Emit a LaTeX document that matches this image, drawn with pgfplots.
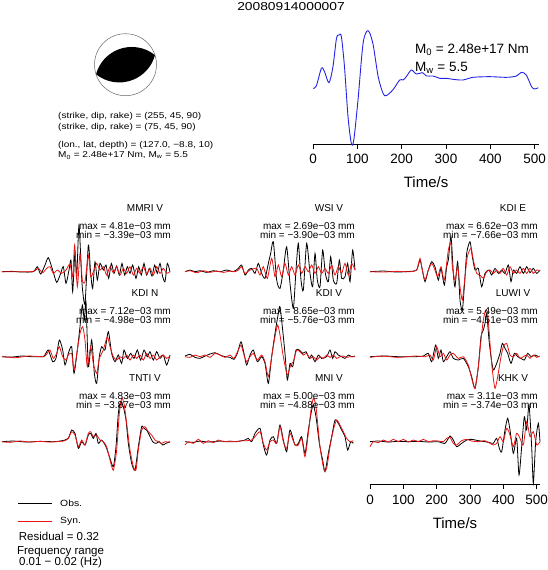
\documentclass[border=0pt]{standalone}
\usepackage{fontspec}
\setmainfont{Liberation Sans}
\usepackage{pgfplots}
\pgfplotsset{compat=1.18}

\definecolor{stfblue}{RGB}{35,35,230}
\definecolor{synred}{RGB}{235,20,20}

\pgfplotsset{
  wave/.style={scale only axis, width=170pt, height=80pt, xmin=0, xmax=510,
    ymin=-120, ymax=120, hide axis, clip=false, anchor=south west},
  obs/.style={black, line width=0.8pt, no marks, smooth, tension=0.4},
  syn/.style={synred, line width=0.8pt, no marks, smooth, tension=0.4},
}
\newcommand{\lab}[1]{\fontsize{10}{10}\selectfont #1}

\begin{document}
\begin{tikzpicture}
\useasboundingbox (0,0) rectangle (547pt,-570pt);

% title
\node at (291pt,-7pt) {\scalebox{1.2}[1]{\fontsize{11.5}{12}\selectfont 20080914000007}};

% beachball
\begin{scope}[shift={(125.5pt,-64.7pt)}, rotate=18]
\fill[black] (31pt,0) arc[start angle=33.2, end angle=146.8, radius=37.03pt]
  arc[start angle=213.2, end angle=326.8, radius=37.03pt] -- cycle;
\end{scope}
\draw[black!60, line width=0.5pt] (125.5pt,-64.7pt) circle (31pt);

\begin{scope}[every node/.style={anchor=west, inner sep=0pt}]
\node at (58pt,-116.7pt) {\scalebox{1.18}[1]{\fontsize{8.5}{9}\selectfont (strike, dip, rake) = (255, 45, 90)}};
\node at (58pt,-127.3pt) {\scalebox{1.18}[1]{\fontsize{8.5}{9}\selectfont (strike, dip, rake) = (75, 45, 90)}};
\node at (58pt,-145pt) {\scalebox{1.18}[1]{\fontsize{8.5}{9}\selectfont (lon., lat, depth) = (127.0, −8.8, 10)}};
\node at (58pt,-155.5pt) {\scalebox{1.18}[1]{\fontsize{8.5}{9}\selectfont M\textsubscript{0} = 2.48e+17 Nm, M\textsubscript{w} = 5.5}};
\end{scope}

% source time function
\begin{axis}[scale only axis, width=226.1pt, height=114pt, at={(313pt,-144pt)},
  anchor=south west, xmin=0, xmax=510, ymin=-167, ymax=175,
  axis x line*=bottom, axis y line=none, axis line style={-, line width=0.8pt},
  clip=false, xtick={0,100,...,500}, tick align=outside, major tick length=5pt,
  xtick style={black, line width=0.8pt},
  ticklabel style={font=\fontsize{13.5}{14}\selectfont},
  xticklabel style={yshift=-2pt},
  /pgf/number format/assume math mode=true,
  xlabel={Time/s}, xlabel style={font=\fontsize{15}{15}\selectfont, yshift=-6pt}]
\addplot[stfblue, line width=0.9pt, smooth, tension=0.5] coordinates {
(0,0) (7.5,7) (19,60) (26,50) (36,17) (45,65) (53,150) (59,160) (64,155) (71,65)
(79,-85) (86.5,-165) (92,-155) (101.5,-35) (113,135) (124,173) (135,135) (147,35)
(158,-15) (165,-22) (180,-5) (195.5,25) (203,25) (210.5,35) (222,55) (233,43)
(247,47) (256,37) (271,37) (286,30) (301,30) (316,27) (338,25) (361,33) (399,35)
(436,33) (459,37) (470,48) (481,40) (493,5) (500,-2) (508,2)};
\node[anchor=west, inner sep=0pt, font=\fontsize{13.5}{14}\selectfont] at (axis cs:230,115) {M\textsubscript{0} = 2.48e+17 Nm};
\node[anchor=west, inner sep=0pt, font=\fontsize{13.5}{14}\selectfont] at (axis cs:230,62) {M\textsubscript{w} = 5.5};
\end{axis}

% ---------- Row 1 ----------
\begin{axis}[wave, at={(2pt,-311.7pt)}]
\addplot[obs] coordinates {
(0,0) (30,1) (60,-1) (94,0) (106,15) (116,-7) (129,20) (139,42) (152,5) (164,-32)
(176,-5) (184,15) (192,-35) (201,5) (207,35) (212,-60) (219,60) (224,-20) (231,140)
(240,-35) (249,-95) (259,80) (266,-5) (272,-50) (279,30) (286,-25) (294,25) (304,5)
(312,20) (320,-20) (328,25) (336,-5) (344,17) (352,-10) (360,25) (368,-10) (376,15)
(384,-5) (392,20) (402,-20) (410,15) (418,-10) (426,25) (434,-10) (442,10) (450,-13)
(458,20) (466,-5) (474,25) (482,-15) (489,-30) (496,25) (504,0)};
\addplot[syn] coordinates {
(0,0) (34,0) (84,0) (99,3) (109,10) (122,-3) (134,10) (144,15) (154,-5) (166,5)
(179,-5) (192,5) (204,23) (212,-15) (218,80) (226,-45) (234,55) (241,-25) (249,-30)
(259,50) (266,-15) (274,0) (284,25) (294,5) (304,15) (314,-10) (324,15) (334,-3)
(344,15) (354,-10) (364,10) (374,-5) (384,15) (394,-10) (404,10) (414,-5) (424,15)
(434,-7) (444,10) (454,-10) (464,15) (474,-5) (484,10) (494,-5) (504,0)};
\end{axis}

\begin{axis}[wave, at={(185pt,-311.7pt)}]
\addplot[obs] coordinates {
(0,0) (15,5) (30,0) (45,3) (65,-2) (85,3) (105,0) (125,5) (145,0) (160,10) (170,20)
(180,-10) (190,5) (200,10) (210,-5) (220,25) (230,-5) (240,-20) (250,25) (257,55)
(265,90) (275,-25) (285,-50) (295,5) (305,75) (315,-35) (325,-110) (333,5) (340,85)
(348,-25) (355,-55) (365,85) (375,-5) (383,-45) (390,55) (397,-25) (405,-45) (413,65)
(421,-5) (430,-30) (437,45) (445,-25) (455,-35) (463,35) (470,-20) (480,-15) (488,25)
(495,-30) (503,65) (510,5)};
\addplot[syn] coordinates {
(0,0) (15,3) (35,-3) (55,3) (75,-2) (95,2) (115,-2) (135,2) (150,0) (160,5) (170,15)
(180,-5) (195,5) (215,10) (225,-10) (235,15) (247,-20) (260,40) (270,-15) (280,20)
(290,-15) (300,25) (310,-10) (320,15) (330,-10) (340,20) (350,-5) (360,15) (370,0)
(380,20) (390,-5) (400,15) (410,-5) (420,10) (430,-5) (440,20) (450,-10) (460,15)
(470,-5) (480,25) (490,-10) (500,25) (510,5)};
\end{axis}

\begin{axis}[wave, at={(370pt,-311.7pt)}]
\addplot[obs] coordinates {
(0,0) (40,2) (80,-1) (120,1) (140,5) (150,35) (157,5) (165,-30) (175,5) (185,30)
(195,15) (205,-25) (213,10) (223,-40) (230,15) (235,35) (243,105) (250,-5) (255,-45)
(263,30) (270,-85) (277,-115) (283,-45) (290,55) (300,90) (307,45) (315,5) (325,10)
(335,-45) (345,-5) (357,5) (365,-10) (375,10) (385,-5) (395,5) (405,-5) (415,20)
(423,-30) (430,5) (440,-5) (450,15) (460,-5) (470,15) (480,-3) (490,10) (500,-5) (510,5)};
\addplot[syn] coordinates {
(0,0) (40,-1) (80,1) (120,0) (140,5) (150,40) (157,5) (165,-25) (175,5) (185,25)
(193,10) (203,-15) (213,15) (223,-25) (235,65) (243,85) (247,15) (255,-25) (263,15)
(270,-45) (277,-85) (285,-15) (292,45) (303,70) (310,35) (320,-5) (330,-10) (340,-20)
(350,0) (360,5) (370,-5) (380,5) (390,-5) (400,10) (410,-10) (420,15) (430,-5)
(440,5) (450,-5) (460,10) (470,-5) (480,10) (490,-5) (500,5) (510,3)};
\end{axis}

% ---------- Row 2 ----------
\begin{axis}[wave, at={(2pt,-396.7pt)}]
\addplot[obs] coordinates {
(0,0) (30,-1) (60,2) (90,0) (124,0) (129,5) (139,20) (152,-15) (162,-5) (172,50)
(182,20) (189,-25) (199,10) (209,30) (216,-50) (226,20) (234,90) (241,155) (247,110)
(252,165) (259,-30) (269,50) (277,-50) (284,-80) (292,0) (299,30) (309,20) (319,75)
(329,10) (339,-15) (349,5) (359,-20) (366,20) (376,-5) (386,10) (396,-5) (406,20)
(416,-10) (426,20) (436,0) (444,15) (454,-10) (464,15) (474,-5) (484,5) (494,-25) (504,5)};
\addplot[syn] coordinates {
(0,0) (40,-3) (80,2) (124,0) (134,8) (144,20) (154,-5) (164,10) (172,30) (182,0)
(192,-10) (199,5) (209,10) (216,-40) (226,20) (234,70) (242,90) (249,50) (256,-30)
(266,30) (274,-20) (284,-50) (292,-5) (304,20) (316,60) (324,30) (334,0) (344,-10)
(354,0) (364,-5) (374,5) (384,-10) (394,5) (404,-5) (414,5) (424,-10) (434,10)
(444,-5) (454,5) (464,-10) (474,0) (484,5) (494,-5) (504,2)};
\end{axis}

\begin{axis}[wave, at={(185pt,-396.7pt)}]
\addplot[obs] coordinates {
(0,2) (15,7) (30,-2) (45,-5) (60,2) (75,8) (90,12) (105,5) (120,0) (135,-2) (147,-8)
(157,10) (168,45) (177,10) (185,-25) (195,5) (205,20) (217,-15) (230,0) (240,-20)
(250,-80) (260,0) (270,70) (280,130) (285,150) (293,80) (300,10) (307,-70) (315,-20)
(323,-30) (333,20) (343,20) (353,10) (363,15) (373,-5) (380,5) (390,-15) (400,5)
(410,-5) (425,0) (435,20) (443,-5) (450,15) (460,5) (470,0) (480,-5) (490,5) (500,0) (510,2)};
\addplot[syn] coordinates {
(0,0) (15,-2) (30,5) (45,0) (60,5) (75,-2) (90,10) (105,5) (120,-2) (135,5) (147,-5)
(160,20) (168,35) (177,5) (185,-15) (195,0) (205,10) (217,-10) (230,5) (240,-15)
(250,-60) (260,0) (270,60) (278,95) (285,65) (295,0) (307,-55) (317,-25) (325,-15)
(335,20) (345,15) (355,5) (365,10) (375,-5) (385,0) (395,-10) (405,0) (415,-5)
(425,5) (435,-2) (445,5) (455,-5) (465,0) (475,2) (485,-2) (495,0) (510,0)};
\end{axis}

\begin{axis}[wave, at={(370pt,-396.7pt)}]
\addplot[obs] coordinates {
(0,0) (45,2) (85,0) (135,0) (160,2) (175,10) (185,-15) (197,35) (205,-5) (213,20)
(220,-15) (230,0) (240,15) (250,-5) (265,-10) (280,-5) (295,-30) (305,-60) (315,-95)
(325,-30) (333,60) (340,80) (345,100) (350,130) (357,50) (363,0) (370,-40) (380,-20)
(390,10) (397,40) (405,25) (413,10) (423,-20) (433,10) (443,0) (453,-5) (463,-10)
(473,10) (483,0) (495,5) (505,0)};
\addplot[syn] coordinates {
(0,-2) (35,2) (85,-2) (135,2) (165,0) (180,5) (190,-10) (200,30) (210,0) (220,10)
(230,-10) (240,5) (250,10) (265,-5) (280,0) (295,-25) (305,-65) (315,-95) (325,-30)
(333,50) (340,110) (347,140) (353,130) (360,40) (367,-40) (375,-95) (383,-60) (393,0)
(400,30) (410,40) (420,5) (430,0) (440,10) (450,-5) (460,0) (470,5) (480,-5) (490,5)
(500,-2) (510,2)};
\end{axis}

% ---------- Row 3 ----------
\begin{axis}[wave, at={(2pt,-481.7pt)}]
\addplot[obs] coordinates {
(0,0) (34,2) (74,-1) (114,1) (154,0) (174,2) (189,5) (199,10) (209,35) (219,25)
(229,-20) (239,0) (249,-10) (259,20) (266,25) (274,10) (282,25) (289,-5) (299,5)
(312,-15) (324,-50) (334,-75) (342,-15) (349,85) (356,120) (364,105) (372,65) (379,-5)
(389,-65) (399,-85) (409,-15) (419,45) (426,40) (434,35) (442,20) (452,0) (462,-5)
(472,0) (482,-10) (492,-5) (504,0)};
\addplot[syn] coordinates {
(0,0) (24,-2) (54,2) (84,-1) (114,1) (144,-1) (174,1) (189,3) (199,10) (209,30)
(219,20) (229,-15) (239,5) (249,-10) (259,25) (266,30) (274,15) (284,20) (294,5)
(304,0) (314,-15) (324,-55) (334,-85) (344,-25) (352,85) (359,130) (366,115) (374,55)
(384,-25) (394,-75) (402,-85) (409,-25) (419,35) (429,45) (439,30) (449,20) (459,5)
(469,0) (479,-5) (489,0) (504,-2)};
\end{axis}

\begin{axis}[wave, at={(185pt,-481.7pt)}]
\addplot[obs] coordinates {
(0,0) (25,-2) (45,2) (65,-1) (85,0) (105,2) (125,0) (145,0) (165,2) (180,5) (190,10)
(200,0) (210,25) (225,40) (235,-10) (245,-40) (255,5) (265,15) (275,-5) (285,50)
(295,5) (305,-30) (315,35) (330,-10) (340,-5) (350,15) (360,-35) (370,35) (380,95)
(385,110) (393,75) (403,-5) (413,-55) (420,-90) (430,-35) (440,15) (450,65) (460,55)
(470,35) (480,15) (488,-25) (497,0) (505,-5)};
\addplot[syn] coordinates {
(0,-10) (10,0) (25,-5) (40,7) (55,-5) (70,3) (85,-3) (100,5) (115,0) (135,2) (155,0)
(170,3) (185,3) (200,5) (210,15) (225,30) (235,-5) (245,-25) (255,0) (265,5) (275,-5)
(285,45) (295,0) (305,-20) (315,25) (330,-10) (340,-10) (350,10) (360,-45) (370,25)
(378,95) (385,130) (393,105) (405,-15) (417,-85) (425,-80) (435,-15) (445,35) (455,65)
(465,50) (475,30) (485,10) (495,0) (505,3)};
\end{axis}

\begin{axis}[scale only axis, width=170pt, height=82.33pt, at={(370pt,-484pt)},
  anchor=south west, xmin=0, xmax=510, ymin=-127, ymax=120,
  axis x line*=bottom, axis y line=none, axis line style={-, line width=0.8pt},
  clip=false, xtick={0,100,...,500}, tick align=outside, major tick length=5pt,
  xtick style={black, line width=0.8pt},
  ticklabel style={font=\fontsize{13.5}{14}\selectfont},
  xticklabel style={yshift=-3pt},
  /pgf/number format/assume math mode=true,
  xlabel={Time/s}, xlabel style={font=\fontsize{15}{15}\selectfont, yshift=-6pt}]
\addplot[obs] coordinates {
(0,0) (25,2) (55,-1) (85,1) (115,0) (145,1) (175,-1) (205,0) (225,-5) (240,17) (250,5)
(260,-15) (275,-5) (290,5) (305,7) (325,3) (345,0) (360,-3) (370,-5) (380,10) (388,-20)
(395,-30) (405,35) (413,70) (420,35) (430,-35) (440,10) (447,-100) (455,-15) (463,75)
(470,35) (477,110) (485,-15) (490,-125) (497,0) (505,55) (510,0)};
\addplot[syn] coordinates {
(0,-15) (10,0) (25,-3) (40,5) (55,-1) (70,7) (85,0) (100,7) (115,-1) (130,5) (145,0)
(160,7) (175,0) (190,3) (205,2) (220,0) (230,10) (240,13) (250,-5) (260,-10) (275,3)
(290,7) (305,2) (325,0) (345,3) (360,-5) (370,-10) (380,-5) (390,15) (400,0) (410,40)
(420,20) (430,-15) (440,25) (450,10) (460,-10) (470,60) (480,15) (490,30) (500,-10) (510,0)};
\end{axis}

% ---------- panel labels ----------
\begin{scope}[every node/.style={inner sep=0pt}]
% row 1
\node at (145pt,-207.7pt) {\lab{MMRI V}};
\node[anchor=east] at (171pt,-225.7pt) {\lab{max = 4.81e−03 mm}};
\node[anchor=east] at (171pt,-234.7pt) {\lab{min = −3.39e−03 mm}};
\node at (329pt,-207.7pt) {\lab{WSI V}};
\node[anchor=east] at (355pt,-225.7pt) {\lab{max = 2.69e−03 mm}};
\node[anchor=east] at (355pt,-234.7pt) {\lab{min = −3.90e−03 mm}};
\node at (513pt,-207.7pt) {\lab{KDI E}};
\node[anchor=east] at (538pt,-225.7pt) {\lab{max = 6.62e−03 mm}};
\node[anchor=east] at (538pt,-234.7pt) {\lab{min = −7.66e−03 mm}};
% row 2
\node at (145pt,-292.7pt) {\lab{KDI N}};
\node[anchor=east] at (171pt,-310.7pt) {\lab{max = 7.12e−03 mm}};
\node[anchor=east] at (171pt,-319.7pt) {\lab{min = −4.98e−03 mm}};
\node at (329pt,-292.7pt) {\lab{KDI V}};
\node[anchor=east] at (355pt,-310.7pt) {\lab{max = 8.65e−03 mm}};
\node[anchor=east] at (355pt,-319.7pt) {\lab{min = −5.76e−03 mm}};
\node at (513pt,-292.7pt) {\lab{LUWI V}};
\node[anchor=east] at (538pt,-310.7pt) {\lab{max = 5.49e−03 mm}};
\node[anchor=east] at (538pt,-319.7pt) {\lab{min = −4.51e−03 mm}};
% row 3
\node at (145pt,-377.7pt) {\lab{TNTI V}};
\node[anchor=east] at (171pt,-395.7pt) {\lab{max = 4.83e−03 mm}};
\node[anchor=east] at (171pt,-404.7pt) {\lab{min = −3.87e−03 mm}};
\node at (329pt,-377.7pt) {\lab{MNI V}};
\node[anchor=east] at (355pt,-395.7pt) {\lab{max = 5.00e−03 mm}};
\node[anchor=east] at (355pt,-404.7pt) {\lab{min = −4.88e−03 mm}};
\node at (513pt,-377.7pt) {\lab{KHK V}};
\node[anchor=east] at (538pt,-395.7pt) {\lab{max = 3.11e−03 mm}};
\node[anchor=east] at (538pt,-404.7pt) {\lab{min = −3.74e−03 mm}};
\end{scope}

% ---------- legend and notes ----------
\draw[black, line width=0.75pt] (18pt,-503pt) -- (52pt,-503pt);
\draw[synred, line width=0.75pt] (18pt,-521pt) -- (52pt,-521pt);
\node[anchor=west, inner sep=0pt] at (60pt,-503pt) {\scalebox{1.15}[1]{\fontsize{9}{9}\selectfont Obs.}};
\node[anchor=west, inner sep=0pt] at (60pt,-521pt) {\scalebox{1.15}[1]{\fontsize{9}{9}\selectfont Syn.}};
\node[inner sep=0pt] at (59pt,-536pt) {\fontsize{11.5}{12}\selectfont Residual = 0.32};
\node[inner sep=0pt] at (60.5pt,-552pt) {\fontsize{11.5}{12}\selectfont Frequency range};
\node[inner sep=0pt] at (60.5pt,-563pt) {\fontsize{11.5}{12}\selectfont 0.01 − 0.02 (Hz)};
\end{tikzpicture}
\end{document}
